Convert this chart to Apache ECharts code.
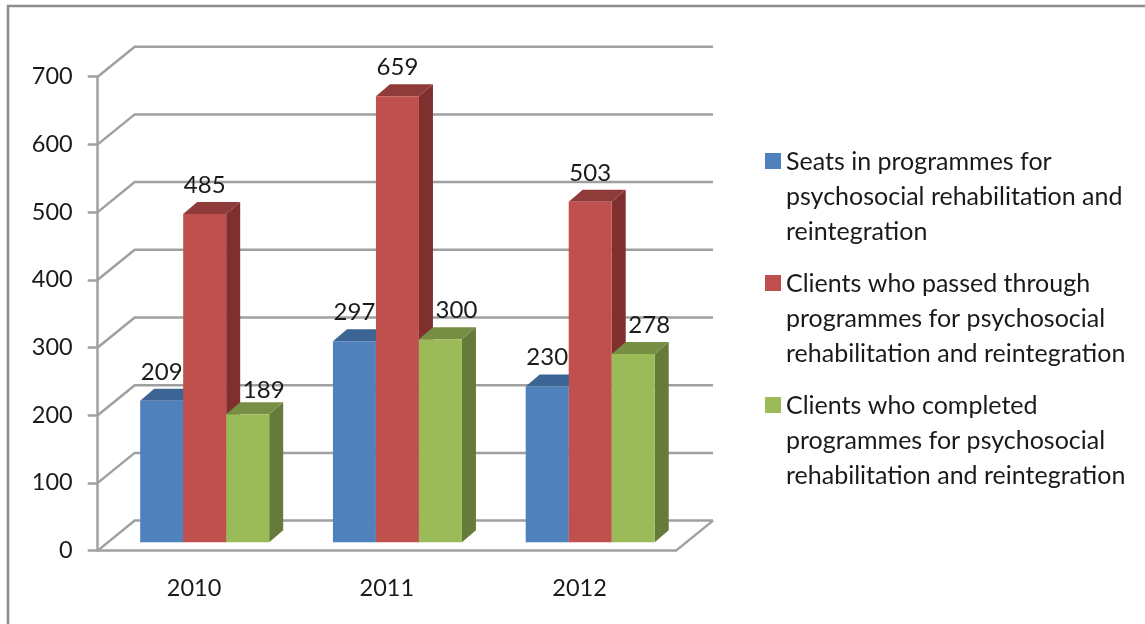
<!DOCTYPE html>
<html>
<head>
<meta charset="utf-8">
<style>html,body{margin:0;padding:0;background:#fff}#chart{width:1145px;height:624px}</style>
<script src="https://cdn.jsdelivr.net/npm/echarts@6/dist/echarts.min.js"></script>
</head>
<body>
<div id="chart"></div>
<script>
const years = ['2010', '2011', '2012'];
const yTicks = [0, 100, 200, 300, 400, 500, 600, 700];
const seats = [209, 297, 230];
const passed = [485, 659, 503];
const completed = [189, 300, 278];
const seatsName = 'Seats in programmes for psychosocial rehabilitation and reintegration';
const passedName = 'Clients who passed through programmes for psychosocial rehabilitation and reintegration';
const completedName = 'Clients who completed programmes for psychosocial rehabilitation and reintegration';
const legendLines = {
  [seatsName]: 'Seats in programmes for\npsychosocial rehabilitation and\nreintegration',
  [passedName]: 'Clients who passed through\nprogrammes for psychosocial\nrehabilitation and reintegration',
  [completedName]: 'Clients who completed\nprogrammes for psychosocial\nrehabilitation and reintegration'
};

const FONT = 'Lato';
const LINE = '#a0a0a0';
// fake 3d, Excel style
const wallDx = 37, wallDy = 30;
const barW = 43, barDx = 14, barDy = 12, barLift = 8.3, barShift = 10.6;

function renderWall(params, api) {
  const cs = params.coordSys;
  const y = api.coord([0, api.value(0)])[1];
  const children = [{
    type: 'polyline',
    shape: {points: [[cs.x, y], [cs.x + wallDx, y - wallDy], [cs.x + cs.width + wallDx, y - wallDy]]},
    style: {stroke: LINE, lineWidth: 2.5, fill: null}
  }];
  if (api.value(0) === 0) {
    children.push({
      type: 'line',
      shape: {x1: cs.x + cs.width, y1: y, x2: cs.x + cs.width + wallDx, y2: y - wallDy},
      style: {stroke: LINE, lineWidth: 2.5}
    });
  }
  return {type: 'group', children};
}

function barRenderer(slot, front, top, side, labelDx) {
  return function (params, api) {
    const value = api.value(1);
    const idx = api.value(0);
    const c = api.coord([idx, value]);
    const base = api.coord([idx, 0]);
    const x0 = c[0] + barShift + (slot - 1.5) * barW;
    const x1 = x0 + barW;
    const yTop = c[1] - barLift;
    const yBot = base[1] - barLift;
    // the 189 label sits lower in the original, it would hit the red bar otherwise
    const labelY = yTop - (value === 189 ? 24 : 29);
    return {
      type: 'group',
      children: [
        {type: 'polygon', shape: {points: [[x1, yTop], [x1 + barDx, yTop - barDy], [x1 + barDx, yBot - barDy], [x1, yBot]]}, style: {fill: side}},
        {type: 'polygon', shape: {points: [[x0, yTop], [x0 + barDx, yTop - barDy], [x1 + barDx, yTop - barDy], [x1, yTop]]}, style: {fill: top}},
        {type: 'rect', shape: {x: x0, y: yTop, width: barW, height: yBot - yTop}, style: {fill: front}},
        {type: 'text', z2: 100, style: {
          text: String(value), x: (x0 + x1) / 2 + labelDx, y: labelY,
          align: 'center', verticalAlign: 'middle',
          font: '24px ' + FONT, fill: '#1a1a1a'
        }}
      ]
    };
  };
}

function barSeries(name, values, slot, front, top, side, labelDx) {
  return {
    type: 'custom',
    name,
    data: values.map((v, i) => [i, v]),
    encode: {x: 0, y: 1},
    itemStyle: {color: front},
    renderItem: barRenderer(slot, front, top, side, labelDx)
  };
}

const chart = echarts.init(document.getElementById('chart'));
chart.setOption({
  animation: false,
  backgroundColor: '#fff',
  graphic: [{
    type: 'rect', silent: true,
    shape: {x: 8, y: 6, width: 1300, height: 800},
    style: {fill: null, stroke: '#8c8c8c', lineWidth: 2.5}
  }],
  grid: {left: 97.7, top: 76.7, width: 578.3, height: 473.9},
  xAxis: {
    type: 'category',
    data: years,
    axisLine: {lineStyle: {color: LINE, width: 2.5}},
    axisTick: {length: 10, lineStyle: {color: LINE, width: 2.5}},
    axisLabel: {margin: 26, fontFamily: FONT, fontSize: 23.5, color: '#1a1a1a'}
  },
  yAxis: {
    type: 'value',
    min: 0,
    max: 700,
    interval: 100,
    splitLine: {show: false},
    axisLine: {show: true, lineStyle: {color: LINE, width: 2.5}},
    axisTick: {show: true, length: 10, lineStyle: {color: LINE, width: 2.5}},
    axisLabel: {margin: 25, fontFamily: FONT, fontSize: 23.5, color: '#1a1a1a'}
  },
  legend: {
    orient: 'vertical',
    left: 765,
    top: 144,
    padding: 0,
    itemWidth: 16,
    itemHeight: 105,
    itemGap: 17,
    // square sits at the first text line, the extra moves only stretch the box
    icon: 'path://M0 0H16M0 9H16V25H0ZM0 105H16',
    data: [seatsName, passedName, completedName],
    formatter: name => legendLines[name],
    textStyle: {fontFamily: FONT, fontSize: 25, lineHeight: 35, color: '#1a1a1a'}
  },
  series: [
    {
      type: 'custom',
      name: 'wall',
      silent: true,
      data: yTicks.map(v => [v]),
      encode: {y: 0},
      renderItem: renderWall
    },
    barSeries(seatsName, seats, 0, '#4f81bd', '#3c6494', '#3c6494', 0),
    barSeries(passedName, passed, 1, '#c0504d', '#8f3b39', '#7f2f2e', 0),
    barSeries(completedName, completed, 2, '#9bbb59', '#778f45', '#667a39', 16)
  ]
});
</script>
</body>
</html>
